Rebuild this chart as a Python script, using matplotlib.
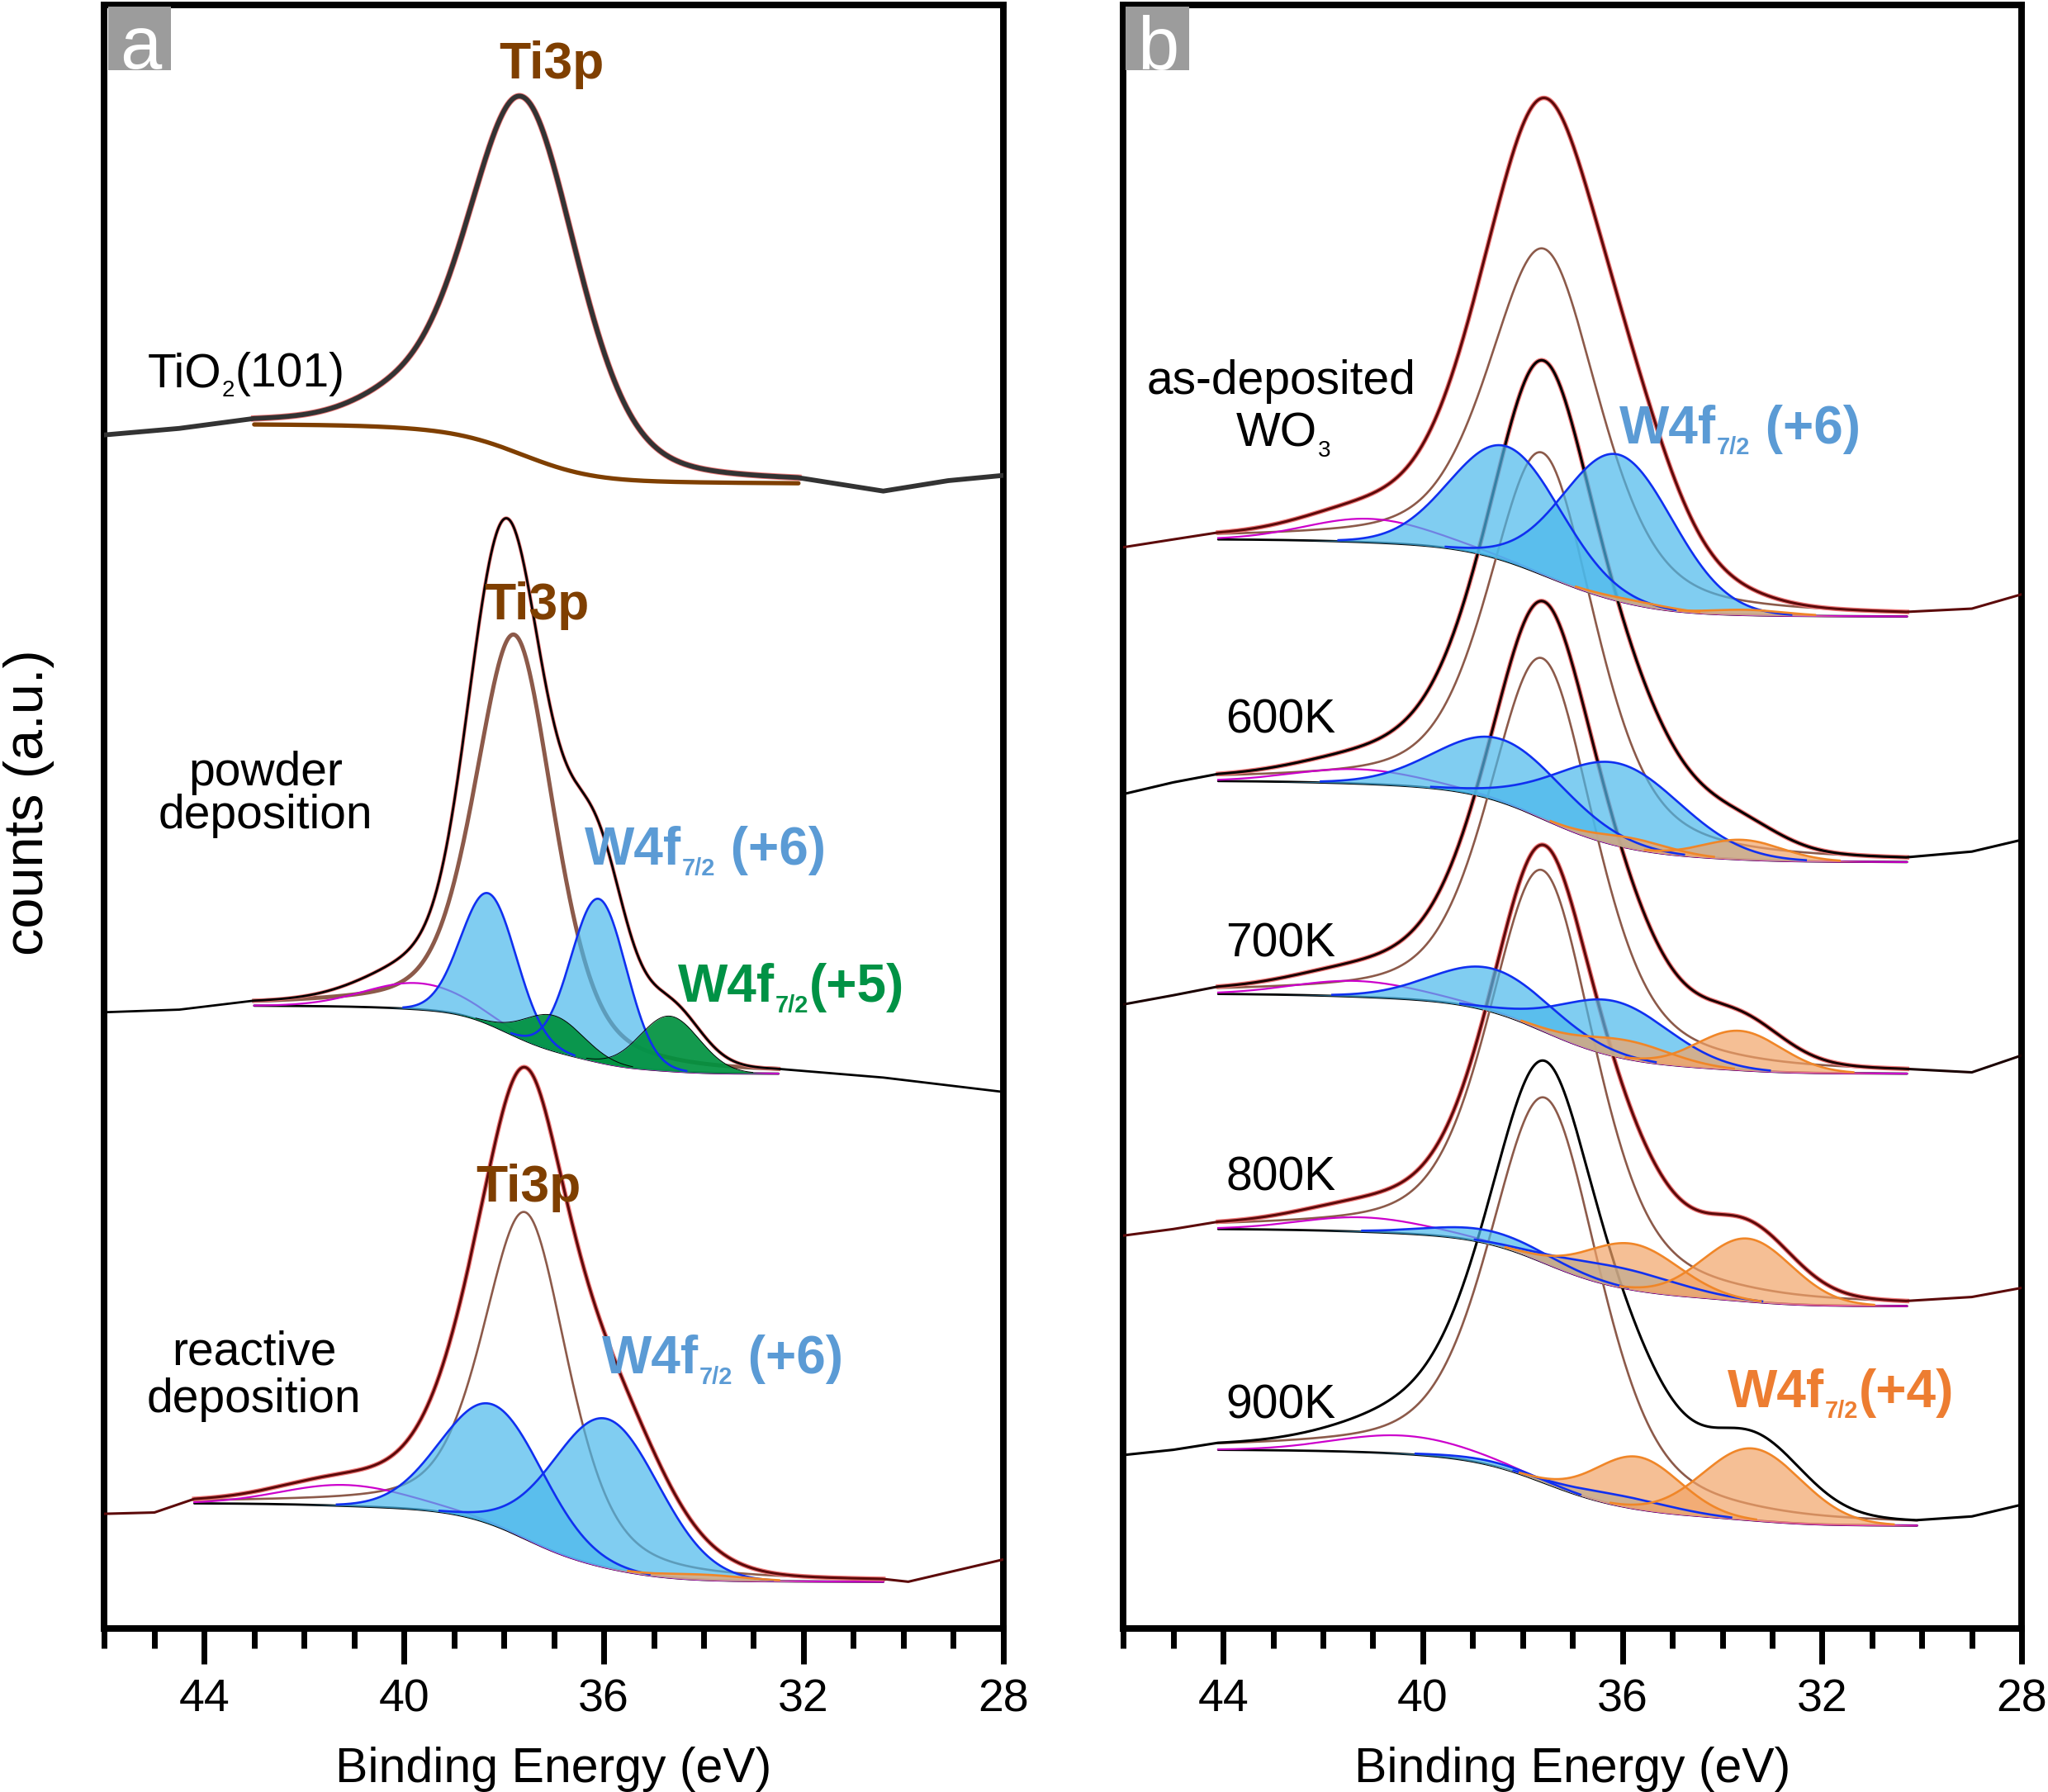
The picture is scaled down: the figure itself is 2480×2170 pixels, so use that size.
import numpy as np
import matplotlib
matplotlib.use("Agg")
import matplotlib.pyplot as plt
from matplotlib.patches import Rectangle

plt.rcParams['font.family'] = ['Liberation Sans', 'DejaVu Sans']
plt.rcParams['mathtext.fontset'] = 'custom'
plt.rcParams['mathtext.rm'] = 'Liberation Sans'
plt.rcParams['mathtext.it'] = 'Liberation Sans:italic'
plt.rcParams['mathtext.bf'] = 'Liberation Sans:bold'

# ---------------------------------------------------------------- data
x_major_ticks = [44, 40, 36, 32, 28]
x_minor_ticks = list(range(28, 47))
# every fitted component: [centre (eV), height (a.u.), FWHM (eV), Lorentzian fraction]
# fit range: [low-BE end, high-BE end]; Shirley levels: [at low-BE end, at high-BE end]
# raw points outside the fitted range: [eV, counts]

# ---- panel a: TiO2(101)
a1_fit_range = [32.1, 43.0]
a1_levels = [877, 922]
a1_raw_low = [[28.0, 883], [29.1, 879], [30.4, 871]]
a1_raw_high = [[44.5, 919], [46.0, 914]]
a1_ti3p = [37.63, 274, 2.6, 0.3]
a1_loss = [40.2, 12, 2.0, 0.0]

# ---- panel a: powder deposition
a2_fit_range = [32.5, 43.0]
a2_levels = [425, 477]
a2_raw_low = [[28.0, 411], [30.4, 422]]
a2_raw_high = [[44.5, 474], [46.0, 472]]
a2_ti3p = [37.78, 307, 1.85, 0.4]
a2_w6 = [[38.30, 100, 1.3, 0.0], [36.10, 125, 1.3, 0.0]]
a2_w5 = [[36.99, 27, 1.4, 0.0], [34.68, 42, 1.4, 0.0]]
a2_sat = [39.72, 20, 2.5, 0.0]

# ---- panel a: reactive deposition
a3_fit_range = [30.4, 44.2]
a3_levels = [36, 96]
a3_raw_low = [[28.0, 53], [29.9, 36]]
a3_raw_high = [[45.0, 89], [46.0, 88]]
a3_ti3p = [37.56, 250, 2.0, 0.45]
a3_w6 = [[38.22, 92, 2.4, 0.0], [35.95, 114, 2.5, 0.0]]
a3_w4 = [[34.0, 4, 2.0, 0.0]]
a3_sat = [41.16, 16, 3.0, 0.0]

# ---- panel b: as-deposited WO3
b1_fit_range = [30.3, 44.1]
b1_levels = [775, 834]
b1_raw_low = [[28.0, 792], [29.0, 781]]
b1_raw_high = [[45.0, 834], [46.0, 828]]
b1_ti3p = [37.56, 250, 2.6, 0.45]
b1_w6 = [[38.32, 88, 2.6, 0.0], [36.08, 112, 2.6, 0.0]]
b1_w4 = [[35.7, 3, 1.8, 0.0], [33.5, 4, 1.8, 0.0]]
b1_sat = [41.06, 18, 3.0, 0.0]

# ---- panel b: 600K
b2_fit_range = [30.3, 44.1]
b2_levels = [587, 649]
b2_raw_low = [[28.0, 604], [29.0, 595]]
b2_raw_high = [[45.0, 648], [46.0, 639]]
b2_ti3p = [37.6, 280, 2.5, 0.45]
b2_w6 = [[38.41, 48, 3.0, 0.0], [36.08, 63, 3.0, 0.0]]
b2_w4 = [[35.8, 8, 1.8, 0.0], [33.6, 15, 1.9, 0.0]]
b2_sat = [41.3, 11, 3.0, 0.0]

# ---- panel b: 700K
b3_fit_range = [30.3, 44.1]
b3_levels = [425, 486]
b3_raw_low = [[28.0, 439], [29.0, 426]]
b3_raw_high = [[45.0, 485], [46.0, 478]]
b3_ti3p = [37.6, 285, 2.5, 0.45]
b3_w6 = [[38.57, 33, 2.8, 0.0], [36.15, 42, 2.6, 0.0]]
b3_w4 = [[35.9, 14, 2.1, 0.0], [33.66, 30, 2.0, 0.0]]
b3_sat = [41.32, 12, 3.0, 0.0]

# ---- panel b: 800K
b4_fit_range = [30.3, 44.1]
b4_levels = [247, 306]
b4_raw_low = [[28.0, 261], [29.0, 254]]
b4_raw_high = [[45.0, 306], [46.0, 301]]
b4_ti3p = [37.6, 300, 2.5, 0.45]
b4_w6 = [[38.55, 10, 2.8, 0.0], [36.08, 15, 2.8, 0.0]]
b4_w4 = [[35.79, 35, 2.2, 0.0], [33.5, 48, 2.1, 0.0]]
b4_sat = [41.19, 11, 3.0, 0.0]

# ---- panel b: 900K
b5_fit_range = [30.1, 44.1]
b5_levels = [79, 137]
b5_raw_low = [[28.0, 95], [29.0, 86]]
b5_raw_high = [[45.0, 137], [46.0, 133]]
b5_ti3p = [37.55, 295, 2.6, 0.45]
b5_w6 = [[38.5, 3, 2.4, 0.0], [36.0, 8, 2.4, 0.0]]
b5_w4 = [[35.69, 40, 2.0, 0.0], [33.40, 55, 2.3, 0.0]]
b5_sat = [40.4, 14, 3.2, 0.0]
b5_unfitted = [38.3, 22, 3.0, 0.0]

# ---------------------------------------------------------------- styles
C_TI = '#8c5a4a'
C_BLUE_FILL = '#4ab9ec'
C_BLUE_EDGE = '#1030f0'
C_GREEN = '#00923f'
C_OR_FILL = '#f2a468'
C_OR_EDGE = '#f08628'
C_SAT = '#cc00cc'
C_FIT = '#ee7777'
C_MAROON = '#5c0a0a'


def pvoigt(x, p):
    c, h, w, eta = p
    r2 = ((x - c) / (w / 2.0)) ** 2
    return h * ((1 - eta) * np.exp(-np.log(2) * r2) + eta / (1 + r2))


def shirley(x, total, levels):
    seg = 0.5 * (total[1:] + total[:-1]) * np.diff(x)
    cum = np.concatenate([[0.0], np.cumsum(seg)])
    return levels[0] + (levels[1] - levels[0]) * cum / cum[-1]


def spectrum(fit_range, levels, raw_low, raw_high, comps, data_color,
             bg_color='black', bg_lw=2.0, ti_lw=1.9, data_lw=2.2,
             fit_lw=4.0, show_fit=True):
    return dict(fit_range=fit_range, levels=levels, raw_low=raw_low,
                raw_high=raw_high, comps=comps, data_color=data_color,
                bg_color=bg_color, bg_lw=bg_lw, ti_lw=ti_lw, data_lw=data_lw,
                fit_lw=fit_lw, show_fit=show_fit)


def draw(ax, s):
    x = np.linspace(s['fit_range'][0], s['fit_range'][1], 900)
    curves = [(pvoigt(x, p), kind) for p, kind in s['comps']]
    fit_total = sum(c for c, k in curves if k != 'unfitted')
    all_total = sum(c for c, k in curves)
    bg = shirley(x, all_total, s['levels'])
    lo = np.array(s['raw_low'], float)
    hi = np.array(s['raw_high'], float)
    xd = np.concatenate([lo[:, 0], x, hi[:, 0]])
    yd = np.concatenate([lo[:, 1], bg + all_total, hi[:, 1]])

    ax.plot(x, bg, color=s['bg_color'], lw=s['bg_lw'], zorder=3,
            solid_capstyle='round')
    for c, k in curves:
        if k == 'ti':
            ax.plot(x, bg + c, color=C_TI, lw=s['ti_lw'], zorder=3)
        elif k == 'sat':
            ax.plot(x, bg + c, color=C_SAT, lw=1.6, zorder=3)
    if s['show_fit']:
        ax.plot(x, bg + fit_total, color=C_FIT, lw=s['fit_lw'], zorder=3.5)
    ax.plot(xd, yd, color=s['data_color'], lw=s['data_lw'], zorder=4,
            solid_joinstyle='round')
    for c, k in curves:
        edge = np.where(c > 0.8, bg + c, np.nan)
        if k == 'w6':
            ax.fill_between(x, bg, bg + c, color=C_BLUE_FILL, alpha=0.7,
                            lw=0, zorder=5)
            ax.plot(x, edge, color=C_BLUE_EDGE, lw=1.9, zorder=6)
        elif k == 'w4':
            ax.fill_between(x, bg, bg + c, color=C_OR_FILL, alpha=0.7,
                            lw=0, zorder=5)
            ax.plot(x, edge, color=C_OR_EDGE, lw=1.9, zorder=6)
    for c, k in curves:
        if k == 'w5':
            ax.fill_between(x, bg, bg + c, color=C_GREEN, alpha=0.92,
                            lw=0, zorder=5.5)
            ax.plot(x, np.where(c > 0.8, bg + c, np.nan), color='black',
                    lw=0.7, zorder=6)


spectra_a = [
    spectrum(a1_fit_range, a1_levels, a1_raw_low, a1_raw_high,
             [(a1_ti3p, 'hidden'), (a1_loss, 'hidden')], '#333333',
             bg_color='#7f3f00', bg_lw=3.8, data_lw=4.2, fit_lw=5.5),
    spectrum(a2_fit_range, a2_levels, a2_raw_low, a2_raw_high,
             [(a2_ti3p, 'ti'), (a2_sat, 'sat')] + [(p, 'w6') for p in a2_w6]
             + [(p, 'w5') for p in a2_w5], 'black', ti_lw=3.6, data_lw=2.0,
             fit_lw=3.2),
    spectrum(a3_fit_range, a3_levels, a3_raw_low, a3_raw_high,
             [(a3_ti3p, 'ti'), (a3_sat, 'sat')] + [(p, 'w6') for p in a3_w6]
             + [(p, 'w4') for p in a3_w4], C_MAROON),
]
spectra_b = [
    spectrum(b1_fit_range, b1_levels, b1_raw_low, b1_raw_high,
             [(b1_ti3p, 'ti'), (b1_sat, 'sat')] + [(p, 'w6') for p in b1_w6]
             + [(p, 'w4') for p in b1_w4], C_MAROON),
    spectrum(b2_fit_range, b2_levels, b2_raw_low, b2_raw_high,
             [(b2_ti3p, 'ti'), (b2_sat, 'sat')] + [(p, 'w6') for p in b2_w6]
             + [(p, 'w4') for p in b2_w4], 'black'),
    spectrum(b3_fit_range, b3_levels, b3_raw_low, b3_raw_high,
             [(b3_ti3p, 'ti'), (b3_sat, 'sat')] + [(p, 'w6') for p in b3_w6]
             + [(p, 'w4') for p in b3_w4], '#1a0000'),
    spectrum(b4_fit_range, b4_levels, b4_raw_low, b4_raw_high,
             [(b4_ti3p, 'ti'), (b4_sat, 'sat')] + [(p, 'w6') for p in b4_w6]
             + [(p, 'w4') for p in b4_w4], C_MAROON),
    spectrum(b5_fit_range, b5_levels, b5_raw_low, b5_raw_high,
             [(b5_ti3p, 'ti'), (b5_sat, 'sat')] + [(p, 'w6') for p in b5_w6]
             + [(p, 'w4') for p in b5_w4] + [(b5_unfitted, 'unfitted')],
             'black', show_fit=False),
]

# ---------------------------------------------------------------- figure
fig = plt.figure(figsize=(24.8, 21.7), dpi=100)
axA = fig.add_axes([0.0510, 0.0911, 0.4388, 0.9060])
axB = fig.add_axes([0.5485, 0.0911, 0.4387, 0.9060])

for ax in (axA, axB):
    ax.set_xlim(46, 28)
    ax.set_ylim(0, 1243)
    ax.set_yticks([])
    ax.set_xticks(x_major_ticks)
    ax.set_xticks(x_minor_ticks, minor=True)
    ax.tick_params(axis='x', which='major', direction='out', length=31,
                   width=5, labelsize=40, pad=12)
    ax.tick_params(axis='x', which='minor', direction='out', length=17,
                   width=5)
    for sp in ax.spines.values():
        sp.set_linewidth(5.7)
    ax.text(0.5, -0.0944, 'Binding Energy (eV)', transform=ax.transAxes,
            ha='center', va='baseline', fontsize=42.5)

for s in spectra_a:
    draw(axA, s)
for s in spectra_b:
    draw(axB, s)

# panel letters
for ax, letter, x0, w, xc in ((axA, 'a', 0.0044, 0.0698, 0.040),
                              (axB, 'b', 0.0022, 0.0712, 0.0385)):
    ax.add_patch(Rectangle((x0, 0.9598), w, 0.0394, transform=ax.transAxes,
                           facecolor='#9c9c9c', edgecolor='none', zorder=10))
    ax.text(xc, 0.9611, letter, transform=ax.transAxes, color='white',
            fontsize=65, ha='center', va='baseline', zorder=11)

BROWN = '#7f3f00'
BLUE_T = '#5b9bd5'
GREEN_T = '#009245'
ORANGE_T = '#ed7d31'


def sub_label(ax, x, y, main, sub, tail, color='black', size=41,
              sub_size=20, bold=False, drop=9.5):
    w = 'bold' if bold else 'normal'
    t1 = ax.text(x, y, main, color=color, fontsize=size, fontweight=w,
                 ha='left', va='baseline', zorder=12)
    off = 0.212 * size - 0.212 * sub_size - drop
    t2 = ax.annotate(sub, xy=(1, 0), xycoords=t1, xytext=(0.5, off),
                     textcoords='offset points', color=color,
                     fontsize=sub_size, fontweight=w, ha='left', va='bottom',
                     zorder=12, annotation_clip=False)
    t3 = ax.annotate(tail, xy=(1, 0), xycoords=(t2, t1), xytext=(0.5, 0),
                     textcoords='offset points', color=color, fontsize=size,
                     fontweight=w, ha='left', va='bottom', zorder=12,
                     annotation_clip=False)
    return t1, t2, t3


# panel a labels
axA.text(37.04, 1187, 'Ti3p', color=BROWN, fontsize=45, fontweight='bold',
         ha='center', va='baseline', zorder=12)
axA.text(37.34, 773, 'Ti3p', color=BROWN, fontsize=45, fontweight='bold',
         ha='center', va='baseline', zorder=12)
axA.text(37.51, 327, 'Ti3p', color=BROWN, fontsize=45, fontweight='bold',
         ha='center', va='baseline', zorder=12)
sub_label(axA, 45.14, 951, 'TiO', '2', '(101)', size=41, drop=9)
axA.text(42.77, 646, 'powder', fontsize=41, ha='center', va='baseline')
axA.text(42.77, 612.6, 'deposition', fontsize=41, ha='center', va='baseline')
axA.text(43.0, 202, 'reactive', fontsize=41, ha='center', va='baseline')
axA.text(43.0, 166, 'deposition', fontsize=41, ha='center', va='baseline')
sub_label(axA, 36.38, 585, 'W4f', '7/2', ' (+6)', color=BLUE_T, size=46,
          sub_size=21, bold=True)
sub_label(axA, 34.51, 480, 'W4f', '7/2', '(+5)', color=GREEN_T, size=46,
          sub_size=21, bold=True)
sub_label(axA, 36.03, 195.5, 'W4f', '7/2', ' (+6)', color=BLUE_T, size=46,
          sub_size=21, bold=True)

# panel b labels
axB.text(42.83, 945.3, 'as-deposited', fontsize=41, ha='center',
         va='baseline')
sub_label(axB, 43.74, 905.4, 'WO', '3', '', size=41, drop=9)
sub_label(axB, 36.06, 907.6, 'W4f', '7/2', ' (+6)', color=BLUE_T, size=46,
          sub_size=21, bold=True)
for lab, yb in (('600K', 685.8), ('700K', 514.8), ('800K', 335.7),
                ('900K', 161.0)):
    axB.text(42.85, yb, lab, fontsize=41, ha='center', va='baseline')
sub_label(axB, 33.89, 169.6, 'W4f', '7/2', '(+4)', color=ORANGE_T, size=46,
          sub_size=21, bold=True)

fig.text(0.0140, 0.552, 'counts (a.u.)', rotation=90, fontsize=48,
         ha='center', va='center')

fig.savefig('out.png', dpi=100)
